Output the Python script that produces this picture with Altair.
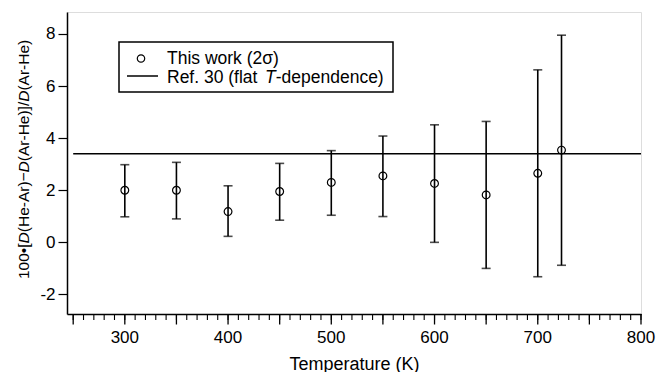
import altair as alt
import pandas as pd

# ---- data ----
temps = [300, 350, 400, 450, 500, 550, 600, 650, 700, 723]
vals = [2.00, 2.00, 1.18, 1.95, 2.30, 2.55, 2.26, 1.82, 2.65, 3.54]
upper = [2.98, 3.07, 2.17, 3.03, 3.52, 4.08, 4.51, 4.64, 6.62, 7.95]
lower = [0.98, 0.90, 0.23, 0.85, 1.04, 0.99, 0.00, -1.00, -1.32, -0.88]

ref_value = [3.4]
ref_start = [250]
ref_end = [800]

x_minor_ticks = list(range(250, 801, 10))
x_major_ticks = list(range(250, 801, 50))
x_labels = [300, 400, 500, 600, 700, 800]
y_ticks = [-2, 0, 2, 4, 6, 8]

df = pd.DataFrame({"T": temps, "v": vals, "hi": upper, "lo": lower})
ref = pd.DataFrame({"y": ref_value, "x": ref_start, "x2": ref_end})
minors = pd.DataFrame({"t": x_minor_ticks})
majors = pd.DataFrame({"t": x_major_ticks})
labs = pd.DataFrame({"t": x_labels, "s": [str(v) for v in x_labels]})
one = pd.DataFrame({"a": [0]})

W, H = 574, 302
FONT = "Liberation Sans"

xscale = alt.Scale(domain=[244, 800], nice=False, zero=False)
yscale = alt.Scale(domain=[-2.75, 8.84], nice=False, zero=False)

xaxis = alt.Axis(
    ticks=False,
    labels=False,
    title="Temperature (K)",
    titleFont=FONT,
    titleFontSize=18,
    titleFontWeight="normal",
    titleColor="black",
    titleY=55,
    titleBaseline="alphabetic",
    grid=False,
    domainColor="black",
    domainWidth=1.5,
)
yaxis = alt.Axis(
    values=y_ticks,
    labelExpr="'' + datum.value",
    tickSize=9,
    labelFontSize=17,
    labelFont=FONT,
    labelColor="black",
    labelPadding=3,
    title=None,
    grid=False,
    domainColor="black",
    domainWidth=1.5,
    tickColor="black",
    tickWidth=1.2,
)

base = alt.Chart(df)

bars = base.mark_rule(color="black", strokeWidth=1.6).encode(
    x=alt.X("T:Q", scale=xscale, axis=xaxis),
    y=alt.Y("lo:Q", scale=yscale, axis=yaxis),
    y2="hi:Q",
)
cap_hi = base.mark_tick(color="black", orient="horizontal", size=9, thickness=1.6).encode(
    x="T:Q", y="hi:Q"
)
cap_lo = base.mark_tick(color="black", orient="horizontal", size=9, thickness=1.6).encode(
    x="T:Q", y="lo:Q"
)
pts = base.mark_point(shape="circle", filled=False, color="black", size=60, strokeWidth=1.2, opacity=1).encode(
    x="T:Q", y="v:Q"
)
refline = alt.Chart(ref).mark_rule(color="black", strokeWidth=1.5).encode(
    x="x:Q", x2="x2:Q", y="y:Q"
)
minor_ticks = alt.Chart(minors).mark_rule(color="black", strokeWidth=1.1).encode(
    x="t:Q", y=alt.value(H), y2=alt.value(H + 6)
)
major_ticks = alt.Chart(majors).mark_rule(color="black", strokeWidth=1.3).encode(
    x="t:Q", y=alt.value(H), y2=alt.value(H + 10.5)
)
x_tick_labels = alt.Chart(labs).mark_text(font=FONT, fontSize=17, align="center", baseline="alphabetic", color="black").encode(
    x="t:Q", y=alt.value(H + 29), text="s:N"
)

# ---- legend box ----
leg_box = alt.Chart(one).mark_rect(fill="white", stroke="black", strokeWidth=1.5).encode(
    x=alt.value(52), x2=alt.value(326), y=alt.value(30), y2=alt.value(80)
)
leg_pt = alt.Chart(one).mark_point(shape="circle", filled=False, color="black", size=55, strokeWidth=1.2, opacity=1).encode(
    x=alt.value(74), y=alt.value(46.5)
)
leg_line = alt.Chart(one).mark_rule(color="black", strokeWidth=1.5).encode(
    x=alt.value(60), x2=alt.value(91), y=alt.value(64)
)
LFS = 17.5
leg_t1 = alt.Chart(one).mark_text(text="This work (2σ)", font=FONT, fontSize=LFS, align="left", baseline="alphabetic", color="black").encode(
    x=alt.value(100), y=alt.value(52.3)
)
seg2 = [("Ref. 30 (flat", "normal", 5.6), ("T", "italic", 0.611), ("-dependence)", "normal", 0)]
leg_layers = []
off = 100.0
for txt, style, em in seg2:
    leg_layers.append(
        alt.Chart(one).mark_text(text=txt, font=FONT, fontSize=LFS, fontStyle=style, align="left", baseline="alphabetic", color="black").encode(
            x=alt.value(off), y=alt.value(70.7)
        )
    )
    off += em * LFS

# ---- y title with italic D, written bottom-to-top ----
YFS = 15.5
yseg = [
    ("100•[", "normal", 2.296),
    ("D", "italic", 0.722),
    ("(He-Ar)−", "normal", 3.861),
    ("D", "italic", 0.722),
    ("(Ar-He)]/", "normal", 3.833),
    ("D", "italic", 0.722),
    ("(Ar-He)", "normal", 3.277),
]
ytitle_layers = []
pos = 267.0
for txt, style, em in yseg:
    ytitle_layers.append(
        alt.Chart(one).mark_text(text=txt, font=FONT, fontSize=YFS, fontStyle=style, angle=270, align="left", baseline="alphabetic", color="black").encode(
            x=alt.value(-38), y=alt.value(pos)
        )
    )
    pos -= em * YFS

chart = alt.layer(
    refline, bars, cap_hi, cap_lo, pts, minor_ticks, major_ticks, x_tick_labels,
    leg_box, leg_pt, leg_line, leg_t1, *leg_layers, *ytitle_layers
).properties(
    width=W, height=H,
    autosize=alt.AutoSizeParams(type="none"),
    padding={"left": 67, "top": 12, "right": 15, "bottom": 58},
).configure_view(stroke=None).configure(background="white")

chart.save("out.html", embed_options={"renderer": "svg", "actions": False})
